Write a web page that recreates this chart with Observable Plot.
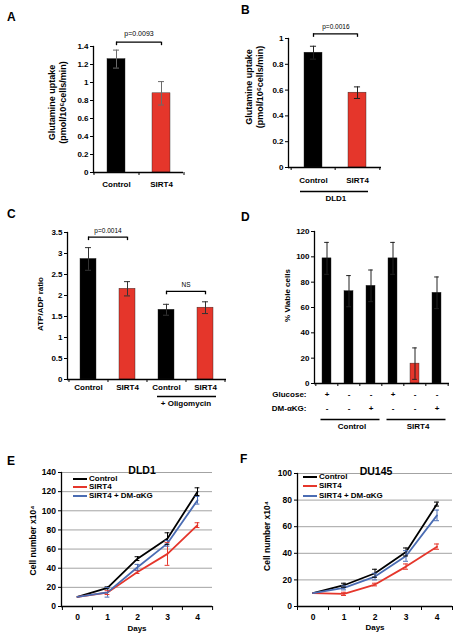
<!DOCTYPE html>
<html>
<head>
<meta charset="utf-8">
<script src="https://cdn.jsdelivr.net/npm/d3@7"></script>
<script src="https://cdn.jsdelivr.net/npm/@observablehq/plot@0.6"></script>
<style>
html, body { margin: 0; padding: 0; background: #fff; }
#root { position: relative; width: 468px; height: 642px; overflow: hidden; font-family: "Liberation Sans", Arial, sans-serif; color: #000; }
.panel { position: absolute; }
.panel svg { display: block; }
.letter { position: absolute; font-size: 12px; font-weight: bold; line-height: 12px; }
.lg { position: absolute; font-size: 8px; font-weight: bold; line-height: 8px; white-space: nowrap; }
.lg .sw { position: absolute; left: 0; top: 3.2px; width: 14px; height: 1.8px; }
.lg .tx { position: absolute; left: 16px; top: 0; }
</style>
</head>
<body>
<div id="root"></div>
<script>
// ---------- DATA ----------
// Panel A
const aCategories = ["Control", "SIRT4"];
const aValues = [1.26, 0.88];
const aErrors = [0.10, 0.13];
const aYTicks = [0, 0.2, 0.4, 0.6, 0.8, 1, 1.2, 1.4];
const aComparisons = [{from: 0, to: 1, level: 1.448, label: "p=0.0093"}];
const aYLabel = ["Glutamine uptake", "(pmol/10\u2076cells/min)"];

// Panel B
const bCategories = ["Control", "SIRT4"];
const bValues = [0.89, 0.58];
const bErrors = [0.05, 0.045];
const bYTicks = [0, 0.2, 0.4, 0.6, 0.8, 1];
const bComparisons = [{from: 0, to: 1, level: 1.036, label: "p=0.0016"}];
const bGroups = [{name: "DLD1", first: 0, last: 1}];
const bYLabel = ["Glutamine uptake", "(pmol/10\u2076cells/min)"];

// Panel C
const cCategories = ["Control", "SIRT4", "Control", "SIRT4"];
const cValues = [2.87, 2.16, 1.66, 1.71];
const cErrors = [0.27, 0.17, 0.13, 0.14];
const cYTicks = [0, 0.5, 1, 1.5, 2, 2.5, 3, 3.5];
const cComparisons = [
  {from: 0, to: 1, level: 3.39, label: "p=0.0014"},
  {from: 2, to: 3, level: 2.10, label: "NS"}
];
const cGroups = [{name: "+ Oligomycin", first: 2, last: 3}];
const cYLabel = ["ATP/ADP ratio"];

// Panel D
const dGroupOf = ["Control", "Control", "Control", "SIRT4", "SIRT4", "SIRT4"];
const dGlucose = ["+", "-", "-", "+", "-", "-"];
const dDMaKG = ["-", "-", "+", "-", "-", "+"];
const dValues = [98.8, 72.9, 77.1, 98.8, 15.7, 71.6];
const dErrors = [12.6, 12.3, 12.5, 12.6, 12.4, 12.5];
const dYTicks = [0, 20, 40, 60, 80, 100, 120];
const dGroups = ["Control", "SIRT4"];
const dYLabel = ["% Viable cells"];

// Panels E / F
const days = [0, 1, 2, 3, 4];
const seriesNames = ["Control", "SIRT4", "SIRT4 + DM-\u03B1KG"];

const eControl = [10, 19.5, 50, 71, 120];
const eControlErr = [0, 1, 2, 6, 4];
const eSirt4 = [10, 14.5, 36, 55, 85];
const eSirt4Err = [0, 2, 1.5, 12, 2.5];
const eSirt4Dm = [10, 14.8, 41, 66, 111];
const eSirt4DmErr = [0, 5, 3, 3, 4];
const eYTicks = [0, 20, 40, 60, 80, 100, 120, 140];

const fControl = [10, 16, 25, 41, 77];
const fControlErr = [0, 1.5, 3, 3, 1.5];
const fSirt4 = [10, 9.5, 16.5, 30, 45];
const fSirt4Err = [0, 1.2, 1, 2, 2];
const fSirt4Dm = [10, 14, 22.5, 38, 68.5];
const fSirt4DmErr = [0, 1.5, 2.5, 4, 4];
const fYTicks = [0, 20, 40, 60, 80, 100];

// ---------- STYLE ----------
const RED = "#e5362b";
const BLUE = "#4a6cb3";
const BLACK = "#000000";
const GRID = "#a3a3a3";
const FONT = "'Liberation Sans', Arial, Helvetica, sans-serif";
const root = document.getElementById("root");

function addPanel(svg, left, top) {
  const div = document.createElement("div");
  div.className = "panel";
  div.style.left = left + "px";
  div.style.top = top + "px";
  div.appendChild(svg);
  root.appendChild(div);
}
function addLetter(t, left, top) {
  const d = document.createElement("div");
  d.className = "letter";
  d.textContent = t;
  d.style.left = left + "px";
  d.style.top = top + "px";
  root.appendChild(d);
}
function addLegend(left, tops, names, colors) {
  names.forEach((n, i) => {
    const row = document.createElement("div");
    row.className = "lg";
    row.style.left = left + "px";
    row.style.top = (tops[i] - 4) + "px";
    const sw = document.createElement("span");
    sw.className = "sw";
    sw.style.background = colors[i];
    const tx = document.createElement("span");
    tx.className = "tx";
    tx.textContent = n;
    row.appendChild(sw);
    row.appendChild(tx);
    root.appendChild(row);
  });
}
const fmt = d => String(+(+d).toFixed(2));

function yLabelMarks(lines, dxs, dy, size) {
  return lines.map((t, k) => Plot.text([t], {
    text: d => d, frameAnchor: "left", textAnchor: "middle", lineAnchor: "middle", rotate: -90,
    dx: dxs[k], dy, fontSize: size + "px", fill: "#000"
  }));
}

function barPanel(o) {
  const n = o.values.length;
  const idx = d3.range(n);
  const rows = idx.map(i => ({i, v: o.values[i], e: o.errors[i], key: o.colorKey(i)}));
  const innerW = o.width - o.mL - o.mR;
  const innerH = o.height - o.mT - o.mB;
  const step = innerW / (n - o.pi + 2 * o.po);
  const bw = step * (1 - o.pi);
  const capInset = Math.max(0, (bw - o.capW) / 2);
  const marks = [
    Plot.barY(rows, {x: "i", y: "v", fill: "key", stroke: "#222", strokeWidth: 0.4}),
    Plot.ruleX(rows, {x: "i", y1: d => d.v - d.e, y2: d => d.v + d.e, stroke: o.errColor, strokeWidth: 1}),
    Plot.tickY(rows, {x: "i", y: d => d.v + d.e, stroke: o.errColor, strokeWidth: 1, insetLeft: capInset, insetRight: capInset}),
    Plot.tickY(rows, {x: "i", y: d => d.v - d.e, stroke: o.errColor, strokeWidth: 1, insetLeft: capInset, insetRight: capInset}),
    Plot.ruleY([0], {stroke: "#000", strokeWidth: 1.3}),
    Plot.frame({anchor: "left", stroke: "#000", strokeWidth: 1.3}),
    Plot.axisY({ticks: o.yTicks, tickSize: 3, tickPadding: 2, tickFormat: fmt, label: null}),
    Plot.ruleX(idx, {x: d => d, dx: -step / 2, insetTop: innerH, insetBottom: -3, stroke: "#000"}),
    Plot.ruleX([n - 1], {x: d => d, dx: step / 2, insetTop: innerH, insetBottom: -3, stroke: "#000"}),
    ...yLabelMarks(o.yLabel, o.yLabelDx, o.yLabelDy, o.yLabelSize || 8)
  ];
  if (o.xLabels) {
    marks.push(Plot.text(idx, {x: d => d, text: i => o.xLabels[i], frameAnchor: "bottom", dy: o.xLabelDy, fontSize: 8, fill: "#000"}));
  }
  if (o.comps) {
    const ends = o.comps.flatMap(c => [{i: c.from, level: c.level}, {i: c.to, level: c.level}]);
    marks.push(
      Plot.ruleY(o.comps, {x1: "from", x2: "to", y: "level", insetLeft: bw / 2, insetRight: bw / 2, stroke: "#000", strokeWidth: 1.3}),
      Plot.ruleX(ends, {x: "i", y1: "level", y2: "level", insetBottom: -3.5, stroke: "#000", strokeWidth: 1.3}),
      Plot.text(o.comps, {x: "from", y: "level", text: "label", dx: step / 2, dy: o.compDy, fontSize: o.pFont, fontWeight: "normal", fill: "#000"})
    );
  }
  if (o.groups) {
    marks.push(
      Plot.ruleY(o.groups, {x1: "first", x2: "last", y: () => 0, dy: o.groupLineDy, insetLeft: o.groupInsetL, insetRight: o.groupInsetR, stroke: "#000", strokeWidth: 1.4}),
      Plot.text(o.groups, {x: "first", y: () => 0, text: "name", dx: (o.groups[0].last - o.groups[0].first) * step / 2, dy: o.groupTextDy, fontSize: 8, fill: "#000"})
    );
  }
  if (o.extra) marks.push(...o.extra({step, bw, idx}));
  return Plot.plot({
    width: o.width, height: o.height,
    marginLeft: o.mL, marginRight: o.mR, marginTop: o.mT, marginBottom: o.mB,
    x: {type: "band", domain: idx, paddingInner: o.pi, paddingOuter: o.po, axis: null},
    y: {domain: o.yDomain},
    color: {domain: o.colorDomain, range: o.colorRange},
    style: {fontFamily: FONT, fontSize: "8px", fontWeight: "bold", background: "transparent", overflow: "visible", color: "#000"},
    marks
  });
}

function linePanel(o) {
  const n = days.length;
  const rows = [];
  o.series.forEach((s, k) => days.forEach((d, i) => rows.push({s, d, v: o.values[k][i], e: o.errors[k][i]})));
  const errRows = rows.filter(r => r.e > 0);
  const innerW = o.width - o.mL - o.mR;
  const innerH = o.height - o.mT - o.mB;
  const step = innerW / n;
  const capInset = (step - 5) / 2;
  return Plot.plot({
    width: o.width, height: o.height,
    marginLeft: o.mL, marginRight: o.mR, marginTop: o.mT, marginBottom: o.mB,
    x: {type: "band", domain: days, paddingInner: 0, paddingOuter: 0, axis: null},
    y: {domain: o.yDomain},
    color: {domain: o.series, range: o.colors},
    style: {fontFamily: FONT, fontSize: "8px", fontWeight: "bold", background: "transparent", overflow: "visible", color: "#000"},
    marks: [
      Plot.gridY({ticks: o.yTicks.filter(t => t > 0), stroke: GRID, strokeOpacity: 1, strokeWidth: 1}),
      Plot.ruleY([0], {stroke: "#000", strokeWidth: 1.3}),
      Plot.frame({anchor: "left", stroke: "#000", strokeWidth: 1.3}),
      Plot.axisY({ticks: o.yTicks, tickSize: 3, tickPadding: 2.5, tickFormat: fmt, label: null, fontSize: 8.5}),
      Plot.ruleX(days, {x: d => d, dx: -step / 2, insetTop: innerH, insetBottom: -4, stroke: "#000"}),
      Plot.ruleX([days[n - 1]], {x: d => d, dx: step / 2, insetTop: innerH, insetBottom: -4, stroke: "#000"}),
      Plot.text(days, {x: d => d, text: d => String(d), frameAnchor: "bottom", dy: o.xLabelDy, fontSize: 8.5, fill: "#000"}),
      Plot.text(["Days"], {text: d => d, frameAnchor: "bottom", dy: o.daysDy, fontSize: 8, fill: "#000"}),
      Plot.text([o.title], {text: d => d, frameAnchor: "top", dx: o.titleDx, dy: o.titleDy, fontSize: 10.5, fill: "#000"}),
      ...yLabelMarks(["Cell number x10\u2074"], [o.yLabelDx], o.yLabelDy, 8.5),
      Plot.line(rows, {x: "d", y: "v", z: "s", stroke: "s", strokeWidth: 1.8}),
      Plot.ruleX(errRows, {x: "d", y1: d => d.v - d.e, y2: d => d.v + d.e, stroke: "s", strokeWidth: 1}),
      Plot.tickY(errRows, {x: "d", y: d => d.v + d.e, stroke: "s", strokeWidth: 1, insetLeft: capInset, insetRight: capInset}),
      Plot.tickY(errRows, {x: "d", y: d => d.v - d.e, stroke: "s", strokeWidth: 1, insetLeft: capInset, insetRight: capInset})
    ]
  });
}

// ---------- PANEL A ----------
addPanel(barPanel({
  values: aValues, errors: aErrors, xLabels: aCategories,
  colorKey: i => aCategories[i], colorDomain: ["Control", "SIRT4"], colorRange: [BLACK, RED],
  width: 234, height: 200, mL: 93, mR: 51, mT: 46, mB: 28,
  pi: 0.6, po: 0.3, capW: 6, errColor: "#6b6b6b",
  yDomain: [0, 1.4], yTicks: aYTicks,
  yLabel: aYLabel, yLabelDx: [-41, -30.5], yLabelDy: -7, yLabelSize: 9,
  xLabelDy: 14, comps: aComparisons, compDy: -8, pFont: 7
}), 0, 0);

// ---------- PANEL B ----------
addPanel(barPanel({
  values: bValues, errors: bErrors, xLabels: bCategories,
  colorKey: i => bCategories[i], colorDomain: ["Control", "SIRT4"], colorRange: [BLACK, RED],
  width: 234, height: 205, mL: 54, mR: 87, mT: 38, mB: 38,
  pi: 0.6, po: 0.34, capW: 6, errColor: "#222",
  yDomain: [0, 1], yTicks: bYTicks,
  yLabel: bYLabel, yLabelDx: [-39, -28.5], yLabelDy: -16, yLabelSize: 9,
  xLabelDy: 15, comps: bComparisons, compDy: -7, pFont: 6.5,
  groups: bGroups, groupLineDy: 24, groupTextDy: 31, groupInsetL: -4, groupInsetR: -2
}), 234, 0);

// ---------- PANEL C ----------
addPanel(barPanel({
  values: cValues, errors: cErrors, xLabels: cCategories,
  colorKey: i => cCategories[i], colorDomain: ["Control", "SIRT4"], colorRange: [BLACK, RED],
  width: 234, height: 250, mL: 67, mR: 8, mT: 32, mB: 71,
  pi: 0.59, po: 0.333, capW: 6, errColor: "#333",
  yDomain: [0, 3.5], yTicks: cYTicks,
  yLabel: cYLabel, yLabelDx: [-27], yLabelDy: -2,
  xLabelDy: 10, comps: cComparisons, compDy: -6.5, pFont: 6.5,
  groups: cGroups, groupLineDy: 17, groupTextDy: 24, groupInsetL: -1, groupInsetR: -3
}), 0, 200);

// ---------- PANEL D ----------
const dGroupSpans = dGroups.map(g => {
  const ids = dGroupOf.map((x, i) => x === g ? i : -1).filter(i => i >= 0);
  return {name: g, first: ids[0], last: ids[ids.length - 1], mid: ids[Math.floor(ids.length / 2)]};
});
addPanel(barPanel({
  values: dValues, errors: dErrors,
  colorKey: i => (dGroupOf[i] === "SIRT4" && dGlucose[i] === "-" && dDMaKG[i] === "-") ? "starved SIRT4" : "other",
  colorDomain: ["other", "starved SIRT4"], colorRange: [BLACK, RED],
  width: 234, height: 250, mL: 80, mR: 19, mT: 31, mB: 67,
  pi: 0.58, po: 0.315, capW: 5, errColor: "#222",
  yDomain: [0, 120], yTicks: dYTicks,
  yLabel: dYLabel, yLabelDx: [-27], yLabelDy: -12,
  extra: ({idx}) => [
    Plot.text(idx, {x: d => d, text: i => dGlucose[i], frameAnchor: "bottom", dy: 13, fontSize: 8, fill: "#000"}),
    Plot.text(idx, {x: d => d, text: i => dDMaKG[i], frameAnchor: "bottom", dy: 27.5, fontSize: 8, fill: "#000"}),
    Plot.text(["Glucose:"], {text: d => d, frameAnchor: "bottom-left", dx: -8, dy: 13, textAnchor: "end", fontSize: 8, fill: "#000"}),
    Plot.text(["DM-\u03B1KG:"], {text: d => d, frameAnchor: "bottom-left", dx: -8, dy: 27.5, textAnchor: "end", fontSize: 8, fill: "#000"}),
    Plot.ruleY(dGroupSpans, {x1: "first", x2: "last", y: () => 0, dy: 36, insetLeft: -1.5, insetRight: -4.5, stroke: "#000", strokeWidth: 1.4}),
    Plot.text(dGroupSpans, {x: "mid", y: () => 0, text: "name", dx: 3, dy: 43, fontSize: 8, fill: "#000"})
  ]
}), 234, 200);

// ---------- PANEL E ----------
addPanel(linePanel({
  series: seriesNames, colors: [BLACK, RED, BLUE],
  values: [eControl, eSirt4, eSirt4Dm], errors: [eControlErr, eSirt4Err, eSirt4DmErr],
  width: 234, height: 192, mL: 61, mR: 22, mT: 22, mB: 36,
  yDomain: [0, 140], yTicks: eYTicks,
  title: "DLD1", titleDx: 5, titleDy: -5.5,
  xLabelDy: 13.5, daysDy: 24, yLabelDx: -28, yLabelDy: 1
}), 0, 450);
addLegend(73, [478.7, 487.2, 495.7], seriesNames, [BLACK, RED, BLUE]);

// ---------- PANEL F ----------
addPanel(linePanel({
  series: seriesNames, colors: [BLACK, RED, BLUE],
  values: [fControl, fSirt4, fSirt4Dm], errors: [fControlErr, fSirt4Err, fSirt4DmErr],
  width: 234, height: 192, mL: 63, mR: 16, mT: 23, mB: 36,
  yDomain: [0, 100], yTicks: fYTicks,
  title: "DU145", titleDx: 1, titleDy: -6,
  xLabelDy: 13.5, daysDy: 23.5, yLabelDx: -30, yLabelDy: -4
}), 234, 450);
addLegend(303, [477.3, 486.2, 495.7], seriesNames, [BLACK, RED, BLUE]);

// ---------- LETTERS ----------
addLetter("A", 7, 10.5);
addLetter("B", 241, 4);
addLetter("C", 7, 208);
addLetter("D", 241, 210.5);
addLetter("E", 7, 455);
addLetter("F", 240, 453);
</script>
</body>
</html>
